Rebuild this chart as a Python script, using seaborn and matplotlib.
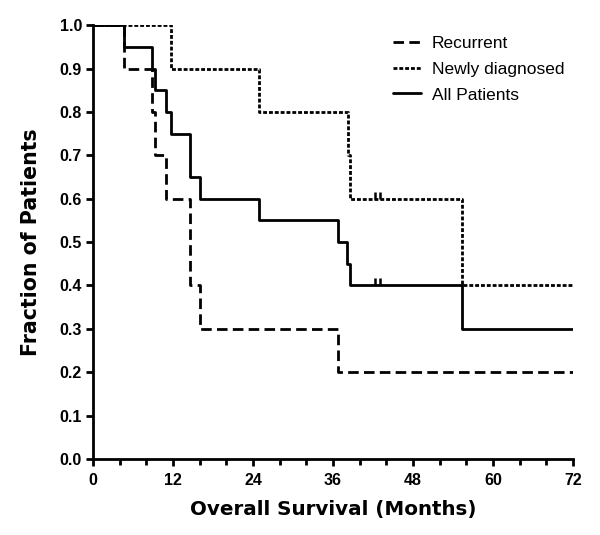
import pandas as pd
import matplotlib
matplotlib.use("Agg")
import matplotlib.pyplot as plt
import seaborn as sns

# Kaplan-Meier steps (months, fraction surviving)
rec_months = [0, 4.7, 8.9, 9.3, 11.0, 14.6, 16.1, 36.7, 72]
rec_surv = [1.0, 0.9, 0.8, 0.7, 0.6, 0.4, 0.3, 0.2, 0.2]

new_months = [0, 11.7, 24.9, 38.2, 38.6, 55.4, 72]
new_surv = [1.0, 0.9, 0.8, 0.7, 0.6, 0.4, 0.4]

all_months = [0, 4.7, 8.9, 9.3, 11.0, 11.7, 14.6, 16.1, 24.9, 36.7, 38.1, 38.6, 55.4, 72]
all_surv = [1.0, 0.95, 0.90, 0.85, 0.80, 0.75, 0.65, 0.60, 0.55, 0.50, 0.45, 0.40, 0.30, 0.30]

# censored observations (tick marks)
cens_months = [42.3, 43.0, 42.3, 43.0]
cens_surv = [0.6, 0.6, 0.4, 0.4]
cens_group = ["Newly diagnosed", "Newly diagnosed", "All Patients", "All Patients"]

groups = ["Recurrent", "Newly diagnosed", "All Patients"]

df = pd.concat([
    pd.DataFrame({"month": rec_months, "surv": rec_surv, "group": "Recurrent"}),
    pd.DataFrame({"month": new_months, "surv": new_surv, "group": "Newly diagnosed"}),
    pd.DataFrame({"month": all_months, "surv": all_surv, "group": "All Patients"}),
], ignore_index=True)
cens = pd.DataFrame({"month": cens_months, "surv": cens_surv, "group": cens_group})

sns.set_style("ticks")
plt.rcParams["font.family"] = ["Liberation Sans", "DejaVu Sans"]
for key in ["text.color", "axes.labelcolor", "xtick.color", "ytick.color", "axes.edgecolor"]:
    plt.rcParams[key] = "black"

fig = plt.figure(figsize=(6, 5.35), dpi=100)
ax = fig.add_axes([0.155, 0.142, 0.8, 0.811])

palette = {g: "black" for g in groups}
dashes = {"Recurrent": (3.8, 1.9), "Newly diagnosed": (1.4, 0.7), "All Patients": ""}

sns.lineplot(data=df, x="month", y="surv", hue="group", style="group",
             hue_order=groups, style_order=groups, palette=palette, dashes=dashes,
             drawstyle="steps-post", linewidth=2, estimator=None, sort=False, ax=ax)

sns.scatterplot(data=cens, x="month", y="surv", color="black", marker=2, s=25,
                linewidth=1.8, legend=False, ax=ax)

ax.set_xlim(0, 72)
ax.set_ylim(0, 1.0)
ax.set_xticks(range(0, 73, 12))
ax.set_xticks(range(0, 73, 4), minor=True)
ax.set_yticks([i / 10 for i in range(11)])
ax.set_yticklabels([f"{i / 10:.1f}" for i in range(11)])
ax.tick_params(axis="both", which="major", length=5, width=2, labelsize=11.5, pad=3)
ax.tick_params(axis="x", which="major", pad=5)
ax.tick_params(axis="x", which="minor", length=4, width=2)
for lab in ax.get_xticklabels() + ax.get_yticklabels():
    lab.set_fontweight("bold")

for side in ["left", "bottom"]:
    ax.spines[side].set_linewidth(2)
sns.despine(ax=ax)

ax.set_xlabel("Overall Survival (Months)", fontsize=14.3, fontweight="heavy",
              family="DejaVu Sans", labelpad=9)
ax.set_ylabel("Fraction of Patients", fontsize=14.8, fontweight="heavy",
              family="DejaVu Sans", labelpad=13)

leg = ax.legend(loc="upper left", bbox_to_anchor=(0.592, 1.012), frameon=False,
                fontsize=12.5, handlelength=1.6, handletextpad=0.65, labelspacing=0.62)
for line in leg.get_lines():
    line.set_linewidth(2)

fig.savefig("out.png", dpi=100)
